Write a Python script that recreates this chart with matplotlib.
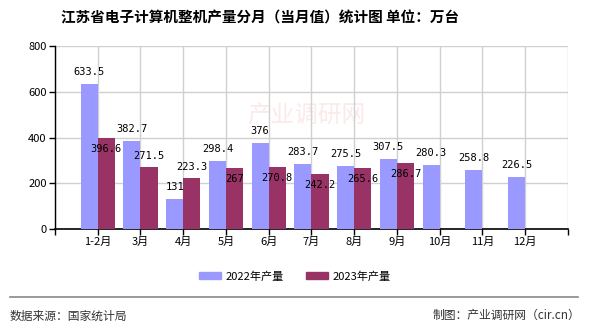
import matplotlib.pyplot as plt
import numpy as np
from matplotlib.patches import Patch

plt.rcParams['font.family'] = ['Noto Sans CJK SC', 'DejaVu Sans']

months = ['1-2月', '3月', '4月', '5月', '6月', '7月', '8月', '9月', '10月', '11月', '12月']
prod_2022 = [633.5, 382.7, 131, 298.4, 376, 283.7, 275.5, 307.5, 280.3, 258.8, 226.5]
prod_2023 = [396.6, 271.5, 223.3, 267, 270.8, 242.2, 265.6, 286.7]
labels_2022 = ['633.5', '382.7', '131', '298.4', '376', '283.7', '275.5', '307.5', '280.3', '258.8', '226.5']
labels_2023 = ['396.6', '271.5', '223.3', '267', '270.8', '242.2', '265.6', '286.7']
# 2023 labels sit above the bar (1) or just inside its top (-1)
label_side_2023 = [-1, 1, 1, -1, -1, -1, -1, -1]

c22 = '#9999ff'
c23 = '#993366'
w = 0.4

fig = plt.figure(figsize=(5.9, 3.3), dpi=100)
ax = fig.add_axes([0.0932, 0.306, 0.8695, 0.5546])

x = np.arange(len(months))
x23 = np.arange(len(prod_2023))
ax.bar(x - w / 2, prod_2022, width=w, color=c22, zorder=3)
ax.bar(x23 + w / 2, prod_2023, width=w, color=c23, zorder=3)

for xi, v, t in zip(x, prod_2022, labels_2022):
    ax.annotate(t, (xi - w / 2, v), xytext=(0, 12), textcoords='offset pixels',
                ha='center', va='center', fontsize=7.5, family='DejaVu Sans Mono', zorder=5)
for xi, v, t, s in zip(x23, prod_2023, labels_2023, label_side_2023):
    ax.annotate(t, (xi + w / 2, v), xytext=(0, 11 * s), textcoords='offset pixels',
                ha='center', va='center', fontsize=7.5, family='DejaVu Sans Mono', zorder=5)

ax.set_xlim(-1, len(months))
ax.set_ylim(0, 800)
ax.set_yticks([0, 200, 400, 600, 800])
ax.set_xticks(np.arange(-1, len(months) + 1))
ax.set_xticklabels([''] + months + [''])
ax.tick_params(axis='both', labelsize=8, length=4, width=1, pad=2)
ax.grid(True, color='#d0d0d0', linewidth=1, zorder=0)
for side in ['top', 'right']:
    ax.spines[side].set_visible(False)
ax.spines['left'].set_linewidth(1)
ax.spines['bottom'].set_linewidth(1.2)

# faint site watermark
ax.text(0.49, 0.62, '产业调研网', transform=ax.transAxes, fontsize=17,
        color='#fbeaea', ha='center', va='center', zorder=1)

fig.text(0.44, 0.948, '江苏省电子计算机整机产量分月（当月值）统计图 单位：万台',
         ha='center', va='center', fontsize=10.5, fontweight='bold')

handles = [Patch(color=c22, label='2022年产量'), Patch(color=c23, label='2023年产量')]
fig.legend(handles=handles, loc='center', bbox_to_anchor=(0.5, 0.163), ncol=2,
           frameon=False, fontsize=8, handlelength=2.0, handleheight=0.6,
           columnspacing=2.0, handletextpad=0.4)

fig.add_artist(plt.Line2D([0.017, 0.98], [0.1, 0.1], color='#888888', linewidth=1.2))
fig.text(0.017, 0.043, '数据来源：国家统计局', ha='left', va='center', fontsize=8.5, color='#333333')
fig.text(0.983, 0.043, '制图：产业调研网（cir.cn）', ha='right', va='center', fontsize=8.5, color='#333333')

plt.savefig('out.png', dpi=100)
plt.close()
